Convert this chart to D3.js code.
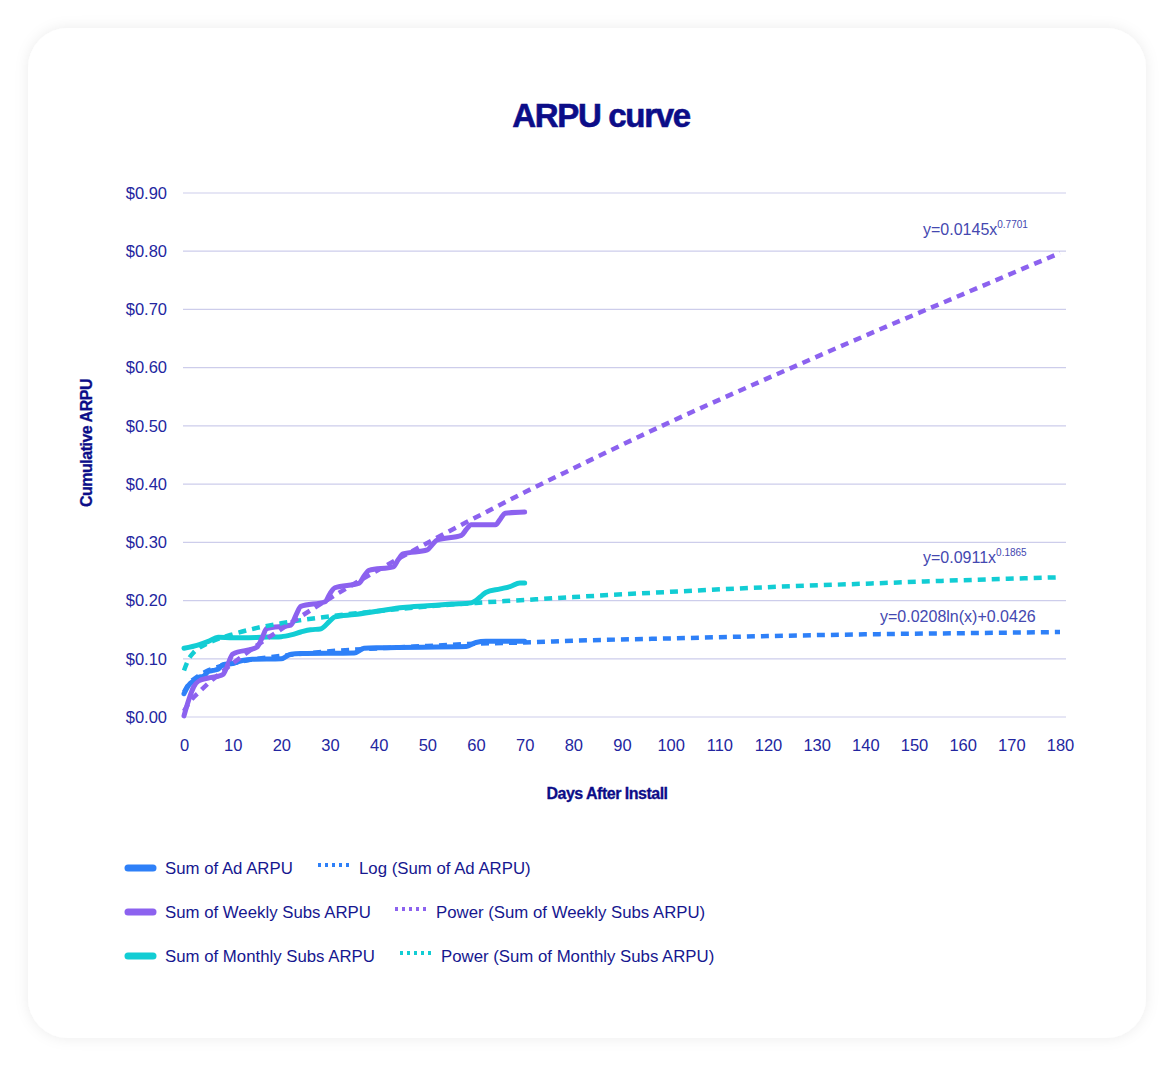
<!DOCTYPE html>
<html>
<head>
<meta charset="utf-8">
<script src="https://cdn.jsdelivr.net/npm/d3@7"></script>
<style>
  body { margin: 0; background: #ffffff; }
  svg { display: block; }
</style>
</head>
<body>
<div id="chart"></div>
<script>
// ---- data ----
const xTicks = [0,10,20,30,40,50,60,70,80,90,100,110,120,130,140,150,160,170,180];
const yTicks = [0,0.1,0.2,0.3,0.4,0.5,0.6,0.7,0.8,0.9];

// solid series: [day, value]
const adArpu = [[0,0.040],[1,0.055],[2,0.062],[3,0.068],[4,0.070],[5,0.078],[6,0.080],[7,0.082],[8,0.090],[10,0.092],[12,0.097],[14,0.099],[20,0.100],[22,0.108],[24,0.109],[35,0.110],[37,0.118],[40,0.119],[58,0.121],[60,0.128],[62,0.130],[70,0.130]];
const weeklyArpu = [[0,0.002],[1,0.030],[2,0.052],[3,0.062],[5,0.067],[7,0.070],[8,0.073],[9,0.090],[10,0.108],[15,0.120],[16,0.135],[17,0.152],[22,0.158],[23,0.175],[24,0.190],[29,0.198],[30,0.212],[31,0.222],[36,0.230],[37,0.242],[38,0.252],[43,0.258],[44,0.270],[45,0.280],[50,0.287],[51,0.296],[52,0.304],[57,0.312],[58,0.322],[59,0.330],[64,0.330],[65,0.340],[66,0.350],[70,0.352]];
const monthlyArpu = [[0,0.118],[3,0.124],[5,0.130],[7,0.137],[10,0.136],[16,0.137],[20,0.138],[22,0.141],[24,0.146],[26,0.150],[28,0.151],[30,0.165],[31,0.172],[35,0.176],[40,0.182],[45,0.188],[50,0.191],[55,0.194],[59,0.196],[61,0.207],[62,0.214],[65,0.220],[67,0.224],[69,0.230],[70,0.230]];

// trend lines
const trendDays = [0,1,2,3,5,7,10,15,20,30,40,50,60,70,80,100,120,140,160,180];
const adLog = [0.043,0.057,0.065,0.071,0.080,0.086,0.092,0.100,0.105,0.113,0.118,0.122,0.126,0.128,0.131,0.135,0.139,0.142,0.144,0.146];
const weeklyPow = [0.010,0.024,0.034,0.042,0.058,0.072,0.092,0.123,0.151,0.204,0.253,0.299,0.343,0.386,0.427,0.507,0.582,0.655,0.726,0.797];
const monthlyPow = [0.080,0.100,0.111,0.118,0.127,0.134,0.142,0.153,0.161,0.173,0.182,0.190,0.196,0.201,0.206,0.215,0.223,0.229,0.235,0.240];

const colors = { ad: "#2e80f8", weekly: "#8c62ef", monthly: "#12cdd4" };

const width = 1174, height = 1065;
const navy = "#16178f";

let svg = d3.select("#chart").append("svg")
  .attr("width", width)
  .attr("height", height)
  .style("font-family", "'Liberation Sans', Arial, sans-serif");

// card with soft shadow
let defs = svg.append("defs");
let f = defs.append("filter").attr("id", "shadow")
  .attr("x", "-10%").attr("y", "-10%").attr("width", "120%").attr("height", "120%");
f.append("feDropShadow").attr("dx", 0).attr("dy", 0)
  .attr("stdDeviation", 7).attr("flood-color", "#000").attr("flood-opacity", 0.08);

svg.append("rect")
  .attr("x", 28).attr("y", 28).attr("width", 1118).attr("height", 1010)
  .attr("rx", 40)
  .attr("fill", "#fff")
  .attr("filter", "url(#shadow)");

// title
svg.append("text")
  .attr("x", 601).attr("y", 127)
  .attr("text-anchor", "middle")
  .attr("font-size", 33).attr("font-weight", 900)
  .attr("letter-spacing", -1.3)
  .attr("stroke", "#0c0d88").attr("stroke-width", 0.6)
  .attr("fill", "#0c0d88")
  .text("ARPU curve");

// scales
let x = d3.scaleLinear().domain([0, 180]).range([184, 1060]);
let y = d3.scaleLinear().domain([0, 0.9]).range([717, 193]);

// gridlines
svg.append("g").selectAll("line")
  .data(yTicks)
  .enter().append("line")
  .attr("x1", 183).attr("x2", 1066)
  .attr("y1", d => y(d)).attr("y2", d => y(d))
  .attr("stroke", "#cdcdeb").attr("stroke-width", 1.2);

// y axis
let yAxis = svg.append("g")
  .attr("transform", "translate(167,0)")
  .call(d3.axisLeft(y).tickValues(yTicks).tickSize(0).tickPadding(0).tickFormat(d => "$" + d.toFixed(2)));
yAxis.select(".domain").remove();
yAxis.selectAll("text")
  .attr("font-size", 16.5).attr("fill", "#2326a0")
  .attr("font-family", "'Liberation Sans', Arial, sans-serif");

// x axis
let xAxis = svg.append("g")
  .attr("transform", "translate(0,739)")
  .call(d3.axisBottom(x).tickValues(xTicks).tickSize(0).tickPadding(0));
xAxis.select(".domain").remove();
xAxis.selectAll("text")
  .attr("font-size", 16.5).attr("fill", "#2326a0")
  .attr("font-family", "'Liberation Sans', Arial, sans-serif");

// axis titles
svg.append("text")
  .attr("x", 607).attr("y", 799)
  .attr("text-anchor", "middle")
  .attr("font-size", 16).attr("font-weight", 700)
  .attr("letter-spacing", -0.5)
  .attr("stroke", "#0c0d88").attr("stroke-width", 0.3)
  .attr("fill", "#0c0d88")
  .text("Days After Install");

svg.append("text")
  .attr("transform", "translate(92,443) rotate(-90)")
  .attr("text-anchor", "middle")
  .attr("font-size", 16).attr("font-weight", 700)
  .attr("letter-spacing", -0.5)
  .attr("stroke", "#0c0d88").attr("stroke-width", 0.3)
  .attr("fill", "#0c0d88")
  .text("Cumulative ARPU");

// lines
let solidLine = d3.line()
  .x(d => x(d[0]))
  .y(d => y(d[1]))
  .curve(d3.curveMonotoneX);

let trendLine = d3.line()
  .x((d, i) => x(trendDays[i]))
  .y(d => y(d))
  .curve(d3.curveMonotoneX);

let solids = [
  { data: adArpu, color: colors.ad },
  { data: monthlyArpu, color: colors.monthly },
  { data: weeklyArpu, color: colors.weekly }
];
let trends = [
  { data: adLog, color: colors.ad },
  { data: monthlyPow, color: colors.monthly },
  { data: weeklyPow, color: colors.weekly }
];

svg.append("g").selectAll("path")
  .data(solids)
  .enter().append("path")
  .attr("d", d => solidLine(d.data))
  .attr("fill", "none")
  .attr("stroke", d => d.color)
  .attr("stroke-width", 5)
  .attr("stroke-linecap", "round")
  .attr("stroke-linejoin", "round");

svg.append("g").selectAll("path")
  .data(trends)
  .enter().append("path")
  .attr("d", d => trendLine(d.data))
  .attr("fill", "none")
  .attr("stroke", d => d.color)
  .attr("stroke-width", 4.5)
  .attr("stroke-dasharray", "8,6");

// trend equations
let eqs = [
  { x: 923, y: 235, base: "y=0.0145x", sup: "0.7701" },
  { x: 923, y: 563, base: "y=0.0911x", sup: "0.1865" },
  { x: 880, y: 622, base: "y=0.0208ln(x)+0.0426", sup: "" }
];
let eqText = svg.append("g").selectAll("text")
  .data(eqs)
  .enter().append("text")
  .attr("x", d => d.x).attr("y", d => d.y)
  .attr("font-size", 16).attr("fill", "#4448b0");
eqText.append("tspan").text(d => d.base);
eqText.append("tspan")
  .attr("dy", -7).attr("font-size", 10)
  .text(d => d.sup);

// legend
let legend = [
  { row: 0, solid: "Sum of Ad ARPU", trend: "Log (Sum of Ad ARPU)", tx: 318, color: colors.ad },
  { row: 1, solid: "Sum of Weekly Subs ARPU", trend: "Power (Sum of Weekly Subs ARPU)", tx: 395, color: colors.weekly },
  { row: 2, solid: "Sum of Monthly Subs ARPU", trend: "Power (Sum of Monthly Subs ARPU)", tx: 400, color: colors.monthly }
];
let lg = svg.append("g").selectAll("g")
  .data(legend)
  .enter().append("g")
  .attr("transform", d => `translate(0,${868 + d.row * 44})`);
lg.append("line")
  .attr("x1", 128).attr("x2", 153)
  .attr("stroke", d => d.color).attr("stroke-width", 7).attr("stroke-linecap", "round");
lg.append("text")
  .attr("x", 165).attr("y", 6)
  .attr("font-size", 16.8).attr("fill", navy)
  .text(d => d.solid);
lg.append("line")
  .attr("x1", d => d.tx).attr("x2", d => d.tx + 32).attr("y1", -3).attr("y2", -3)
  .attr("stroke", d => d.color).attr("stroke-width", 4).attr("stroke-dasharray", "3,4");
lg.append("text")
  .attr("x", d => d.tx + 41).attr("y", 6)
  .attr("font-size", 16.8).attr("fill", navy)
  .text(d => d.trend);
</script>
</body>
</html>
